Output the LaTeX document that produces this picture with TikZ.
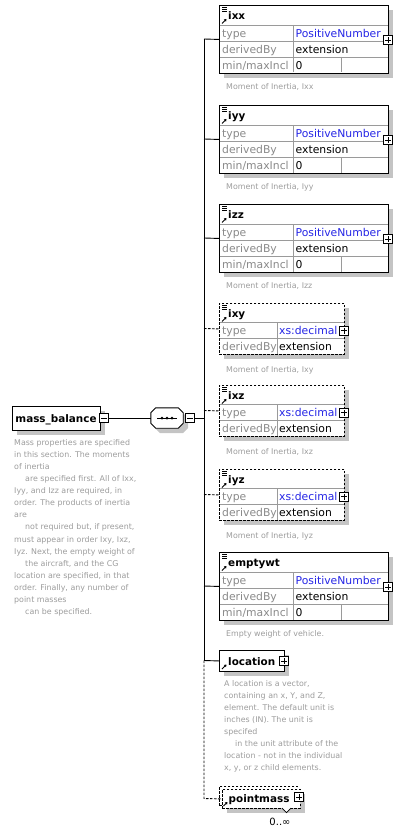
\documentclass[tikz,border=0pt]{standalone}
\usepackage{fontspec}
\setmainfont{DejaVu Sans}
\usetikzlibrary{arrows.meta}
\definecolor{lblgray}{HTML}{8A8A8A}
\definecolor{rowgray}{HTML}{9A9A9A}
\definecolor{descgray}{HTML}{9C9C9C}
\definecolor{shadowgray}{HTML}{C4C4C4}
\definecolor{typeblue}{HTML}{2626E6}
\tikzset{
  ebox/.style={draw=black, fill=white, line width=0.9pt, inner sep=0pt, anchor=north west},
  optbox/.style={ebox, dash pattern=on 2.5pt off 1.5pt},
  rowline/.style={draw=rowgray, line width=0.8pt},
  lbl/.style={anchor=base west, inner sep=0pt, text=lblgray, font=\fontsize{10.8}{12}\selectfont},
  val/.style={anchor=base west, inner sep=0pt, text=black, font=\fontsize{10.8}{12}\selectfont},
  tval/.style={val, text=typeblue},
  ename/.style={anchor=base west, inner sep=0pt, font=\bfseries\fontsize{10.4}{12}\selectfont},
  desc/.style={anchor=base west, inner sep=0pt, text=descgray, font=\fontsize{7.9}{12}\selectfont},
  mdesc/.style={anchor=north west, inner sep=0pt, text=descgray, align=left, font=\fontsize{7.9}{12.1}\selectfont},
  conn/.style={draw=black, line width=0.9pt},
  optconn/.style={conn, dash pattern=on 2.5pt off 1.5pt},
  pmicon/.style={draw=black, fill=white, line width=0.7pt, minimum size=9pt, inner sep=0pt},
}
\newcommand\hdricons[2]{%
  \draw[line width=0.6pt] (#1+3,#2+2.5) -- ++(5,0) (#1+3,#2+4.5) -- ++(5,0) (#1+3,#2+6.5) -- ++(5,0);
  \draw[line width=0.9pt, -{Triangle[length=2.2pt,width=2.8pt]}] (#1+3,#2+18.5) -- (#1+7.5,#2+14);
}
\newcommand\plusicon[3]{%
  \node[pmicon] (#1) at (#2,#3) {};
  \draw[line width=0.7pt] ([xshift=-3pt]#1.center) -- ([xshift=3pt]#1.center) ([yshift=-3pt]#1.center) -- ([yshift=3pt]#1.center);
}
\newcommand\minusicon[3]{%
  \node[pmicon] (#1) at (#2,#3) {};
  \draw[line width=0.7pt] ([xshift=-3pt]#1.center) -- ([xshift=3pt]#1.center);
}
\newcommand\solidelem[4]{%
  \fill[shadowgray] (224,#2+5) rectangle (393,#2+73);
  \node[ebox, minimum width=169pt, minimum height=68pt] (#1) at (219,#2) {};
  \draw[rowline] (219.5,#2+20) -- (387.5,#2+20) (219.5,#2+36) -- (387.5,#2+36) (219.5,#2+52) -- (387.5,#2+52)
     (293,#2+20) -- (293,#2+67.5) (341,#2+52) -- (341,#2+67.5);
  \node[ename] (#1-n) at (228,#2+14.5) {#3};
  \node[lbl] (#1-l1) at (222,#2+32.5) {type};
  \node[tval] (#1-v1) at (295.5,#2+32.5) {PositiveNumber};
  \node[lbl] (#1-l2) at (222,#2+48.5) {derivedBy};
  \node[val] (#1-v2) at (295.5,#2+48.5) {extension};
  \node[lbl] (#1-l3) at (222,#2+64.5) {min/maxIncl};
  \node[val] (#1-v3) at (295.5,#2+64.5) {0};
  \node[desc] (#1-d) at (226,#2+84.5) {#4};
  \hdricons{219}{#2}
  \plusicon{#1-p}{388}{#2+35}
  \coordinate (t-#1) at (204,#2+34);
  \draw[conn] (t-#1) -- (#1.west);
}
\newcommand\optelem[4]{%
  \fill[shadowgray] (224,#2+5) rectangle (349,#2+56);
  \node[optbox, minimum width=125pt, minimum height=51pt] (#1) at (219,#2) {};
  \draw[rowline] (219.5,#2+19) -- (343.5,#2+19) (219.5,#2+35) -- (343.5,#2+35) (277,#2+19) -- (277,#2+50.5);
  \node[ename] (#1-n) at (228,#2+14) {#3};
  \node[lbl] (#1-l1) at (222,#2+31) {type};
  \node[tval] (#1-v1) at (279,#2+31) {xs:decimal};
  \node[lbl] (#1-l2) at (222,#2+47) {derivedBy};
  \node[val] (#1-v2) at (279,#2+47) {extension};
  \node[desc] (#1-d) at (226,#2+69) {#4};
  \hdricons{219}{#2}
  \plusicon{#1-p}{344}{#2+27.5}
  \coordinate (t-#1) at (204,#2+25.5);
  \draw[optconn] (t-#1) -- (#1.west);
}
\begin{document}
\begin{tikzpicture}[x=1pt,y=-1pt]
\useasboundingbox (0,0) rectangle (403,832);
% root element
\fill[shadowgray] (17,411) rectangle (105,435);
\node[ebox, minimum width=88pt, minimum height=24pt] (mb) at (12,406) {};
\node[ename, anchor=base] (mb-n) at (56,422) {mass\_balance};
\minusicon{mb-m}{104}{418}
\node[mdesc] (mb-d) at (14,439) {Mass properties are specified\\
in this section. The moments\\
of inertia\\
\hspace*{11pt}are specified first. All of Ixx,\\
Iyy, and Izz are required, in\\
order. The products of inertia\\
are\\
\hspace*{11pt}not required but, if present,\\
must appear in order Ixy, Ixz,\\
Iyz. Next, the empty weight of\\
\hspace*{11pt}the aircraft, and the CG\\
location are specified, in that\\
order. Finally, any number of\\
point masses\\
\hspace*{11pt}can be specified.};
% sequence compositor
\fill[shadowgray] (160,413) -- (183,413) -- (188,418) -- (188,428) -- (183,433) -- (160,433) -- (155,428) -- (155,418) -- cycle;
\node[minimum width=32pt, minimum height=20pt, inner sep=0pt] (seq) at (167,418) {};
\draw[fill=white, line width=0.9pt] ([xshift=5pt]seq.north west) -- ([xshift=-5pt]seq.north east) -- ([yshift=-5pt]seq.north east) -- ([yshift=5pt]seq.south east) -- ([xshift=-5pt]seq.south east) -- ([xshift=5pt]seq.south west) -- ([yshift=5pt]seq.south west) -- ([yshift=-5pt]seq.north west) -- cycle;
\draw[line width=0.9pt] ([xshift=-10pt]seq.center) -- ([xshift=10pt]seq.center);
\fill ([xshift=-5pt]seq.center) circle (1.5) (seq.center) circle (1.5) ([xshift=5pt]seq.center) circle (1.5);
\minusicon{seq-m}{190}{418}
\coordinate (tseq) at (204,418);
\draw[conn] (mb-m.east) -- (seq.west);
\draw[conn] (seq-m.east) -- (tseq);
% children
\solidelem{ixx}{5}{ixx}{Moment of Inertia, Ixx}
\solidelem{iyy}{105}{iyy}{Moment of Inertia, Iyy}
\solidelem{izz}{204}{izz}{Moment of Inertia, Izz}
\optelem{ixy}{303}{ixy}{Moment of Inertia, Ixy}
\optelem{ixz}{385}{ixz}{Moment of Inertia, Ixz}
\optelem{iyz}{469}{iyz}{Moment of Inertia, Iyz}
\solidelem{emptywt}{552}{emptywt}{Empty weight of vehicle.}
% location
\fill[shadowgray] (224,655) rectangle (289,676);
\node[ebox, minimum width=65pt, minimum height=21pt] (location) at (219,650) {};
\node[ename] (location-n) at (228,665) {location};
\draw[line width=0.9pt, -{Triangle[length=2.2pt,width=2.8pt]}] (222,669) -- (226.5,664.5);
\plusicon{location-p}{284}{661}
\coordinate (t-location) at (204,660.5);
\draw[conn] (t-location) -- (location.west);
\node[mdesc] (location-d) at (224,680) {A location is a vector,\\
containing an x, Y, and Z,\\
element. The default unit is\\
inches (IN). The unit is\\
specifed\\
\hspace*{11pt}in the unit attribute of the\\
location - not in the individual\\
x, y, or z child elements.};
% pointmass
\fill[shadowgray] (227,794) rectangle (305,813);
\node[optbox, minimum width=78pt, minimum height=19pt] (pointmass-b) at (219,786) {};
\node[optbox, minimum width=78pt, minimum height=19pt] (pointmass) at (222,789) {};
\node[ename] (pointmass-n) at (228.5,802) {pointmass};
\draw[line width=0.9pt, -{Triangle[length=2.2pt,width=2.8pt]}] (223.5,806) -- (227.5,802);
\plusicon{pointmass-p}{299}{797}
\draw[line width=0.7pt, fill=white] (282,808) -- (286.5,812.5) -- (291,808);
\node[anchor=base, inner sep=0pt, font=\fontsize{10}{12}\selectfont] (pointmass-o) at (280,825) {0..∞};
\coordinate (t-pointmass) at (204,798.5);
\draw[conn] (t-ixx) -- (t-location);
\draw[optconn] (t-location) -- (t-pointmass) -- (pointmass.west);
\end{tikzpicture}
\end{document}
